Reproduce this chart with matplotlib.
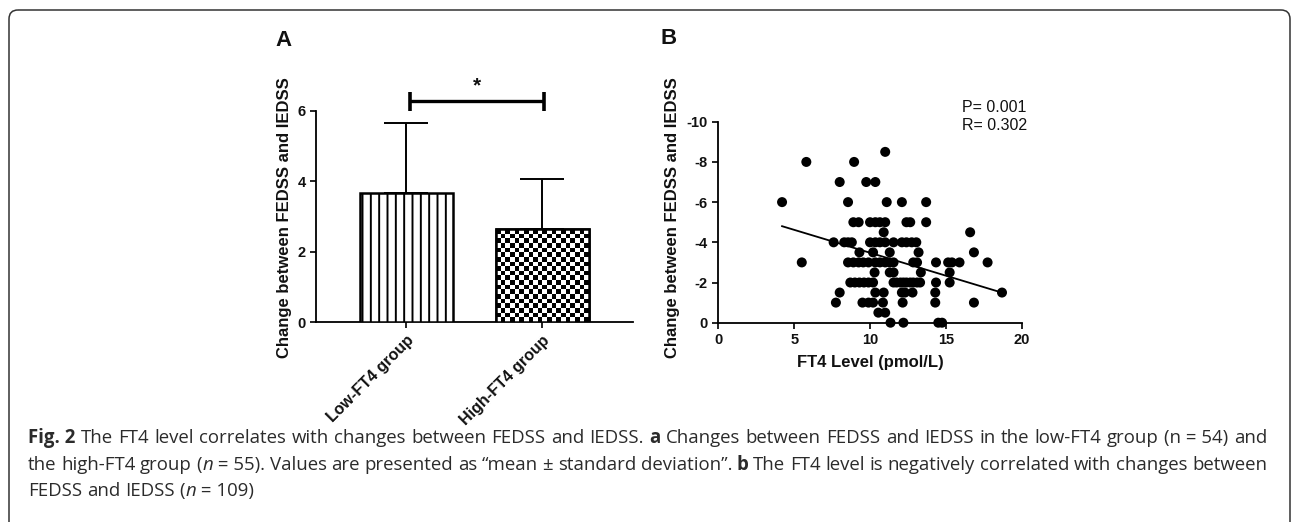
import re
import numpy as np
import matplotlib
matplotlib.use('Agg')
import matplotlib.pyplot as plt
from matplotlib.patches import FancyBboxPatch

# panel A: change between FEDSS and IEDSS, mean and SD per group
groups = ['Low-FT4 group', 'High-FT4 group']
group_means = [3.66, 2.64]
group_sds = [2.01, 1.44]
sig_level = 6.27

# panel B: FT4 level against change
change_levels = [-8.5, -8, -7, -6, -5, -4.5, -4, -3.5, -3, -2.5, -2, -1.5, -1, -0.5, 0]
ft4_by_level = [
    [11.0],
    [5.8, 8.95],
    [8.0, 9.75, 10.35],
    [4.2, 8.55, 11.1, 12.1, 13.7],
    [8.9, 9.25, 10.0, 10.35, 10.65, 11.0, 12.4, 12.65, 13.7],
    [10.9, 16.6],
    [7.6, 8.3, 8.55, 8.8, 10.0, 10.35, 10.65, 11.0, 11.55, 12.1, 12.4, 12.75, 13.05],
    [9.3, 10.2, 11.3, 13.2, 16.85],
    [5.5, 8.55, 8.9, 9.25, 9.55, 9.9, 10.35, 10.65, 11.0, 11.3, 11.55, 12.85, 13.1,
     14.35, 15.15, 15.4, 15.9, 17.75],
    [10.3, 11.3, 11.55, 13.35, 15.25],
    [8.7, 9.0, 9.3, 9.6, 9.9, 10.2, 11.55, 11.75, 12.0, 12.2, 12.4, 12.65, 12.85,
     13.1, 13.3, 14.35, 15.25],
    [8.0, 10.35, 10.9, 12.1, 12.3, 12.8, 14.3, 18.7],
    [7.75, 9.5, 9.9, 10.2, 10.85, 12.15, 14.3, 16.85],
    [10.55, 11.0],
    [11.35, 12.2, 14.5, 14.75],
]
fit_slope = 0.228
fit_intercept = -5.76
p_text = 'P= 0.001'
r_text = 'R= 0.302'

# caption; ** marks bold, _ marks italic, \u00a0 keeps "n = 54" together
caption_lines = [
    '**Fig.\u00a02** The FT4 level correlates with changes between FEDSS and IEDSS. **a** Changes '
    'between FEDSS and IEDSS in the low-FT4 group (n\u00a0=\u00a054) and',
    'the high-FT4 group (_n_\u00a0=\u00a055). Values are presented as \u201cmean \u00b1 standard deviation\u201d. '
    '**b** The FT4 level is negatively correlated with changes between',
    'FEDSS and IEDSS (_n_\u00a0=\u00a0109)',
]

ft4 = np.concatenate([np.array(v) for v in ft4_by_level])
change = np.concatenate([np.full(len(v), lv) for lv, v in zip(change_levels, ft4_by_level)])

plt.rcParams['font.family'] = ['Liberation Sans', 'DejaVu Sans']
plt.rcParams['axes.unicode_minus'] = False
plt.rcParams['hatch.linewidth'] = 1.4

INK = '#111111'
fig = plt.figure(figsize=(12.92, 5.22), dpi=100)

# background axes in pixel units for frame, labels and caption
bg = fig.add_axes([0, 0, 1, 1])
bg.set_xlim(0, 1292)
bg.set_ylim(522, 0)
bg.axis('off')
bg.add_patch(FancyBboxPatch((9, 10), 1281, 600, boxstyle='round,pad=0,rounding_size=9',
                            fill=False, edgecolor='#333333', linewidth=1.1))

tick_kw = dict(direction='out', length=4, width=1.3, labelsize=10.5, colors=INK)

# ---- panel A ----
axA = fig.add_axes([0.2446, 0.3826, 0.2454, 0.4048])
axA.patch.set_alpha(0)
x = np.arange(len(groups))
bars = axA.bar(x, group_means, width=0.68, color='white', edgecolor='black', linewidth=1.8, zorder=3)
bars[0].set_hatch('||')
axA.errorbar(x, group_means, yerr=[np.zeros(len(x)), group_sds], fmt='none', ecolor='black',
             elinewidth=1.4, capsize=16, capthick=1.4, zorder=2)
axA.set_xlim(-0.664, 1.667)
axA.set_ylim(0, 6)
axA.set_yticks([0, 2, 4, 6])
axA.set_xticks(x)
axA.set_xticklabels(groups, rotation=45, ha='right', va='top', rotation_mode='anchor')

# checkerboard fill for the second bar
fig.canvas.draw()
b = bars[1]
bx0, by0 = b.get_x(), b.get_y()
bw, bh = b.get_width(), b.get_height()
p0 = axA.transData.transform((bx0, by0))
p1 = axA.transData.transform((bx0 + bw, by0 + bh))
ncols = 20
nrows = int(round(ncols * (p1[1] - p0[1]) / (p1[0] - p0[0])))
checker = np.indices((nrows, ncols)).sum(axis=0) % 2
im = axA.imshow(checker, cmap='gray', extent=(bx0, bx0 + bw, by0, by0 + bh), aspect='auto',
                interpolation='nearest', zorder=3.5)
im.set_clip_path(b)
axA.bar([x[1]], [group_means[1]], width=0.68, color='none', edgecolor='black', linewidth=1.8, zorder=4)
axA.set_xlim(-0.664, 1.667)
axA.set_ylim(0, 6)

# significance bracket
bx = [0.03, 1.01]
axA.plot(bx, [sig_level, sig_level], color='black', lw=2.4, clip_on=False, solid_capstyle='butt')
for xx in bx:
    axA.plot([xx, xx], [sig_level - 0.27, sig_level + 0.27], color='black', lw=2.6, clip_on=False,
             solid_capstyle='butt')
axA.text(np.mean(bx), sig_level + 0.18, '*', ha='center', va='bottom', fontsize=15, fontweight='bold', color=INK)

for s in ['top', 'right']:
    axA.spines[s].set_visible(False)
for s in ['left', 'bottom']:
    axA.spines[s].set_linewidth(1.3)
axA.tick_params(**tick_kw)
for lab in axA.get_xticklabels() + axA.get_yticklabels():
    lab.set_fontweight('bold')
for lab in axA.get_xticklabels():
    lab.set_fontsize(11.5)

# ---- panel B ----
axB = fig.add_axes([0.556, 0.3818, 0.2348, 0.385])
axB.patch.set_alpha(0)
axB.scatter(ft4, change, s=52, color='black', edgecolors='none', clip_on=False, zorder=3)
fx = np.array([ft4.min(), ft4.max()])
axB.plot(fx, fit_slope * fx + fit_intercept, color='black', lw=1.3, zorder=2)
axB.set_xlim(0, 20)
axB.set_ylim(0, -10)
axB.set_xticks([0, 5, 10, 15, 20])
axB.set_yticks([0, -2, -4, -6, -8, -10])
for s in ['top', 'right']:
    axB.spines[s].set_visible(False)
for s in ['left', 'bottom']:
    axB.spines[s].set_linewidth(1.3)
axB.tick_params(**tick_kw)
for lab in axB.get_xticklabels() + axB.get_yticklabels():
    lab.set_fontweight('bold')

# labels in pixel coordinates
lab_kw = dict(fontsize=12, fontweight='bold', color=INK, ha='center', va='center')
bg.text(285, 218, 'Change between FEDSS and IEDSS', rotation=90, **lab_kw)
bg.text(673, 218, 'Change between FEDSS and IEDSS', rotation=90, **lab_kw)
bg.text(870, 362, 'FT4 Level (pmol/L)', **lab_kw)
bg.text(275, 40, 'A', fontsize=16, fontweight='bold', color=INK, ha='left', va='center')
bg.text(660, 38, 'B', fontsize=16, fontweight='bold', color=INK, ha='left', va='center')
bg.text(962, 108, p_text, fontsize=11.5, color=INK, ha='left', va='center')
bg.text(962, 125, r_text, fontsize=11.5, color=INK, ha='left', va='center')

# ---- caption, justified like the journal layout ----
cap_font = ['Open Sans', 'DejaVu Sans']
cap_color = '#2b2b2b'
renderer = fig.canvas.get_renderer()
X0, X1 = 28, 1267


def seg_style(seg):
    if seg.startswith('**'):
        return seg[2:-2], dict(fontweight='bold')
    if seg.startswith('_'):
        return seg[1:-1], dict(style='italic')
    return seg, {}


def measure(txt, size, **kw):
    t = bg.text(0, 0, txt, family=cap_font, fontsize=size, **kw)
    w = t.get_window_extent(renderer).width
    t.remove()
    return w


def split_words(line):
    return [[seg_style(s) for s in re.split(r'(\*\*.+?\*\*|_.+?_)', w) if s] for w in line.split(' ')]


def natural_width(line, size):
    words = split_words(line)
    total = sum(measure(t, size, **kw) for w in words for t, kw in w)
    space = measure('a a', size) - 2 * measure('a', size)
    return total + space * (len(words) - 1)


# font size chosen so the first line nearly fills the column, as in the reference
cap_size = 10 * (X1 - X0 - 12) / natural_width(caption_lines[0], 10)


def draw_line(y, line, justify):
    words = split_words(line)
    placed = []
    for w in words:
        arts = []
        for txt, kw in w:
            t = bg.text(0, y, txt, family=cap_font, fontsize=cap_size, color=cap_color,
                        ha='left', va='center', **kw)
            arts.append((t, t.get_window_extent(renderer).width))
        placed.append(arts)
    widths = [sum(wd for _, wd in a) for a in placed]
    if justify and len(placed) > 1:
        gap = (X1 - X0 - sum(widths)) / (len(placed) - 1)
    else:
        gap = measure('a a', cap_size) - 2 * measure('a', cap_size)
    xx = X0
    for arts, wd in zip(placed, widths):
        for t, w in arts:
            t.set_x(xx)
            xx += w
        xx += gap


for i, (yy, line) in enumerate(zip([438, 465, 491], caption_lines)):
    draw_line(yy, line, justify=(i < len(caption_lines) - 1))

fig.savefig('out.png', dpi=100)
